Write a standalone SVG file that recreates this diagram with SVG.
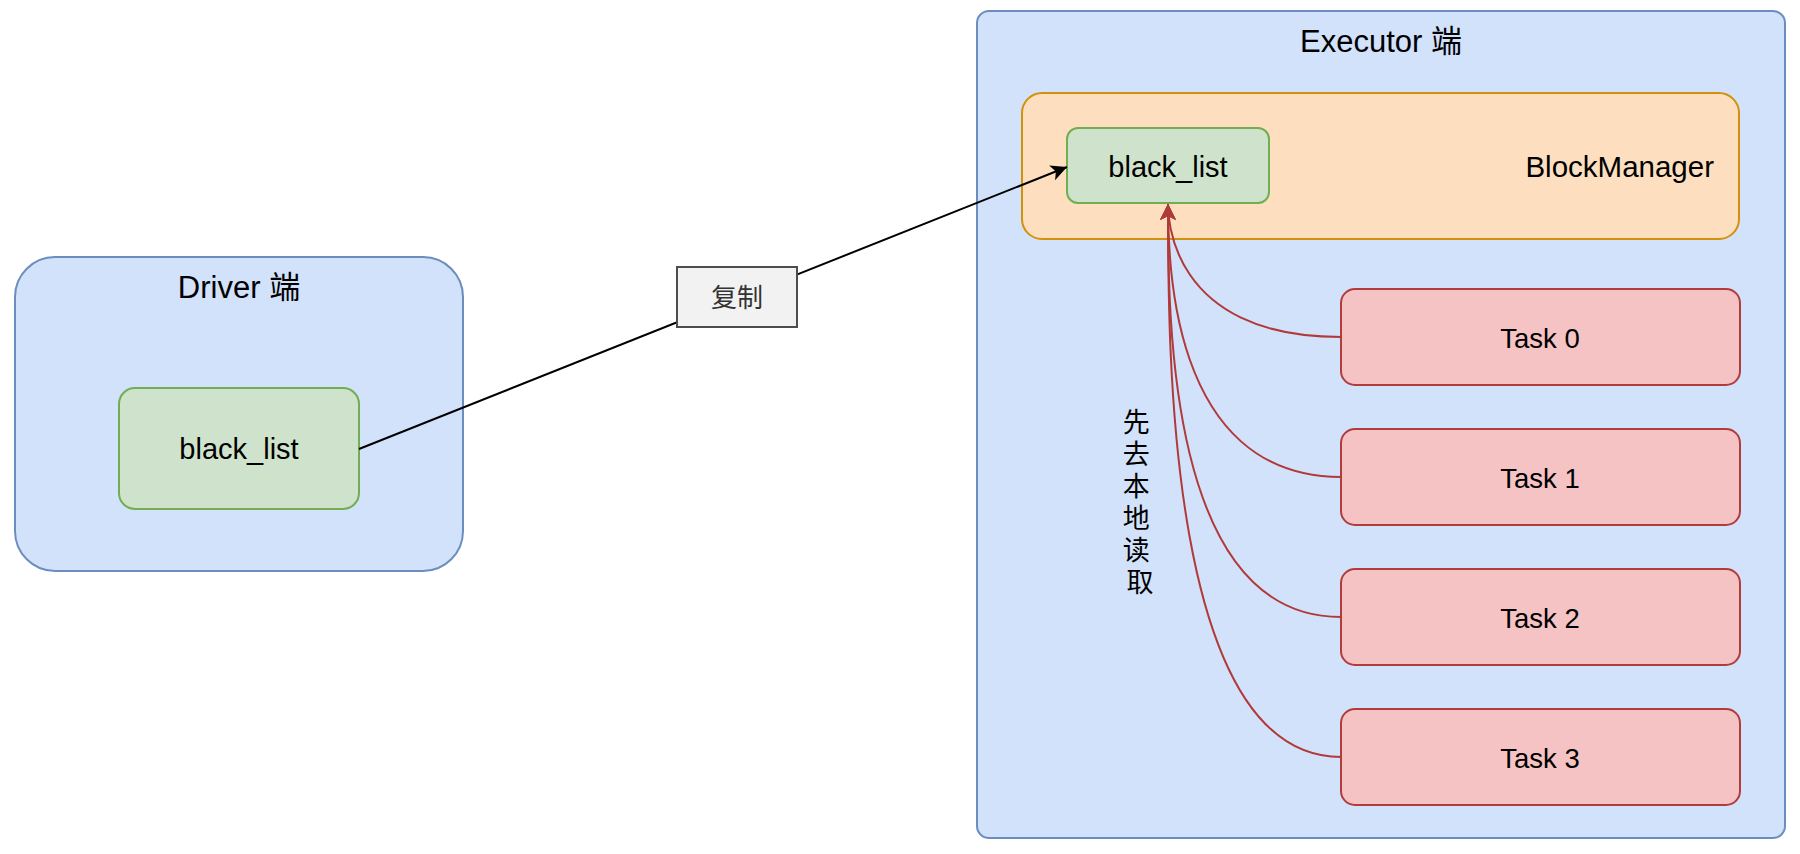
<svg xmlns="http://www.w3.org/2000/svg" width="1800" height="854" viewBox="0 0 1800 854">
  <style>
    .t { font-family: "Liberation Sans", "Noto Sans CJK SC", sans-serif; fill: #000; }
    .blue { fill: #d2e2fa; stroke: #6c8ebf; stroke-width: 2; }
    .green { fill: #cfe3cc; stroke: #72ad52; stroke-width: 2; }
    .orange { fill: #fddfc0; stroke: #d4900a; stroke-width: 2; }
    .red { fill: #f5c3c3; stroke: #b23c3c; stroke-width: 2; }
    .label { fill: #f2f2f2; stroke: #4d4d4d; stroke-width: 2; }
    .edge-black { fill: none; stroke: #000; stroke-width: 2; }
    .edge-red { fill: none; stroke: #b03a3a; stroke-width: 2; }
  </style>
  <defs>
    <marker id="arrBlack" markerUnits="userSpaceOnUse" markerWidth="18" markerHeight="18" viewBox="0 0 18 18" refX="17" refY="9" orient="auto">
      <path d="M1,1 L17,9 L1,17 L5,9 Z" fill="#000"/>
    </marker>
    <marker id="arrRed" markerUnits="userSpaceOnUse" markerWidth="18" markerHeight="18" viewBox="0 0 18 18" refX="17" refY="9" orient="auto">
      <path d="M1,1 L17,9 L1,17 L5,9 Z" fill="#b03a3a"/>
    </marker>
  </defs>

  <g id="driver">
    <rect class="blue" x="15" y="257" width="448" height="314" rx="40"/>
    <text class="t" x="239" y="298" font-size="31" text-anchor="middle">Driver 端</text>
  </g>
  <g id="driver-black-list">
    <rect class="green" x="119" y="388" width="240" height="121" rx="16"/>
    <text class="t" x="239" y="459" font-size="29" text-anchor="middle">black_list</text>
  </g>

  <g id="executor">
    <rect class="blue" x="977" y="11" width="808" height="827" rx="12"/>
    <text class="t" x="1381" y="52" font-size="31" text-anchor="middle">Executor 端</text>
  </g>
  <g id="blockmanager">
    <rect class="orange" x="1022" y="93" width="717" height="146" rx="20"/>
    <text class="t" x="1714" y="177" font-size="29.5" text-anchor="end">BlockManager</text>
  </g>
  <g id="executor-black-list">
    <rect class="green" x="1067" y="128" width="202" height="75" rx="11"/>
    <text class="t" x="1168" y="177" font-size="29" text-anchor="middle">black_list</text>
  </g>

  <g id="task0">
    <rect class="red" x="1341" y="289" width="399" height="96" rx="14"/>
    <text class="t" x="1540" y="348" font-size="27.5" text-anchor="middle">Task 0</text>
  </g>
  <g id="task1">
    <rect class="red" x="1341" y="429" width="399" height="96" rx="14"/>
    <text class="t" x="1540" y="488" font-size="27.5" text-anchor="middle">Task 1</text>
  </g>
  <g id="task2">
    <rect class="red" x="1341" y="569" width="399" height="96" rx="14"/>
    <text class="t" x="1540" y="628" font-size="27.5" text-anchor="middle">Task 2</text>
  </g>
  <g id="task3">
    <rect class="red" x="1341" y="709" width="399" height="96" rx="14"/>
    <text class="t" x="1540" y="768" font-size="27.5" text-anchor="middle">Task 3</text>
  </g>

  <g id="connectors">
    <path class="edge-black" d="M359,449 L1067,167" marker-end="url(#arrBlack)"/>
    <path class="edge-red" d="M1341,337 C1168,337 1168,214 1168,204" marker-end="url(#arrRed)"/>
    <path class="edge-red" d="M1341,477 C1168,477 1168,254 1168,204" marker-end="url(#arrRed)"/>
    <path class="edge-red" d="M1341,617 C1168,617 1168,319 1168,204" marker-end="url(#arrRed)"/>
    <path class="edge-red" d="M1341,757 C1168,757 1168,354 1168,204" marker-end="url(#arrRed)"/>
  </g>

  <g id="label-copy">
    <rect class="label" x="677" y="267" width="120" height="60"/>
    <text class="t" x="737" y="307" font-size="26" text-anchor="middle" style="fill:#333">复制</text>
  </g>

  <g id="label-read">
    <text class="t" x="1140" font-size="27" text-anchor="middle">
      <tspan x="1140" y="432">先</tspan>
      <tspan x="1140" y="464">去</tspan>
      <tspan x="1140" y="496">本</tspan>
      <tspan x="1140" y="528">地</tspan>
      <tspan x="1140" y="560">读</tspan>
      <tspan x="1140" y="592">取</tspan>
    </text>
  </g>
</svg>
